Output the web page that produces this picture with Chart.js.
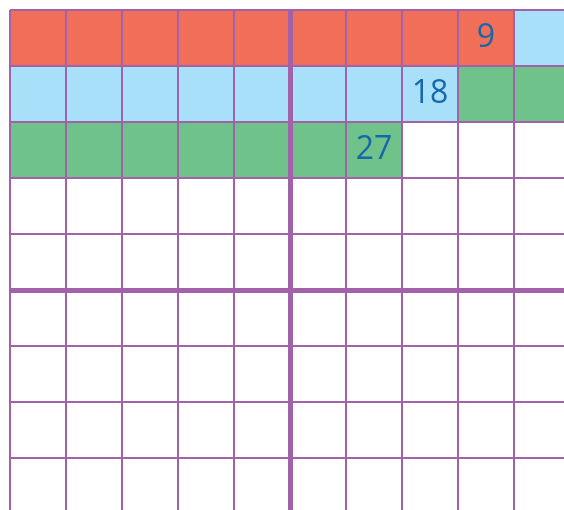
<!DOCTYPE html>
<html>
<head>
<meta charset="utf-8">
<script src="https://cdn.jsdelivr.net/npm/chart.js@4.4.1/dist/chart.umd.min.js"></script>
<style>
  html, body { margin: 0; padding: 0; overflow: hidden; background: #ffffff; }
  #wrap { width: 570px; height: 570px; position: relative; }
</style>
</head>
<body>
<div id="wrap"><canvas id="c"></canvas></div>
<script>
// Hundred grid (10 x 10), counting on in nines
const columns = ['1','2','3','4','5','6','7','8','9','10'];
const rowCount = 10;
const groupEnds = [9, 18, 27];          // each coloured run ends at these numbers
const groupLabels = ['9', '18', '27'];
const groupColors = ['#F16E58', '#A8DFF9', '#6FC38A'];
const lineColor = '#A262AA';
const textColor = '#1767AA';

// Build one floating-bar dataset per coloured run: cell n -> row, column
function runData(start, end) {
  const data = columns.map(() => null);
  for (let n = start; n <= end; n++) {
    const col = (n - 1) % 10;
    const row = Math.floor((n - 1) / 10);
    data[col] = [row, row + 1];
  }
  return data;
}
const datasets = groupEnds.map((end, i) => ({
  label: groupLabels[i],
  data: runData(i === 0 ? 1 : groupEnds[i - 1] + 1, end),
  backgroundColor: groupColors[i],
  borderWidth: 0,
  grouped: false,
  categoryPercentage: 1,
  barPercentage: 1
}));

const labelPlugin = {
  id: 'cellLabels',
  afterDraw(chart) {
    const { ctx, scales } = chart;
    ctx.save();
    ctx.fillStyle = textColor;
    ctx.font = '32px "Open Sans", sans-serif';
    ctx.textAlign = 'center';
    ctx.textBaseline = 'middle';
    groupEnds.forEach((n, i) => {
      const col = (n - 1) % 10;
      const row = Math.floor((n - 1) / 10);
      const x = scales.x.getPixelForValue(col);
      const y = scales.y.getPixelForValue(row + 0.5);
      ctx.fillText(groupLabels[i], x, y - 0.5);
    });
    ctx.restore();
  }
};

new Chart(document.getElementById('c'), {
  type: 'bar',
  data: { labels: columns, datasets },
  options: {
    responsive: true,
    maintainAspectRatio: false,
    animation: false,
    layout: { padding: { left: 10, top: 10, right: 0, bottom: 0 } },
    plugins: { legend: { display: false }, tooltip: { enabled: false } },
    scales: {
      x: {
        type: 'category',
        offset: true,
        border: { display: false },
        ticks: { display: false },
        grid: {
          z: 1,
          offset: true,
          drawTicks: false,
          color: lineColor,
          lineWidth: (c) => (c.index === 5 ? 5 : 2)
        }
      },
      y: {
        type: 'linear',
        reverse: true,
        min: 0,
        max: rowCount,
        border: { display: false },
        ticks: { display: false, stepSize: 1 },
        grid: {
          z: 1,
          drawTicks: false,
          color: lineColor,
          lineWidth: (c) => (c.tick && c.tick.value === 5 ? 5 : 2)
        }
      }
    }
  },
  plugins: [labelPlugin]
});
</script>
</body>
</html>
